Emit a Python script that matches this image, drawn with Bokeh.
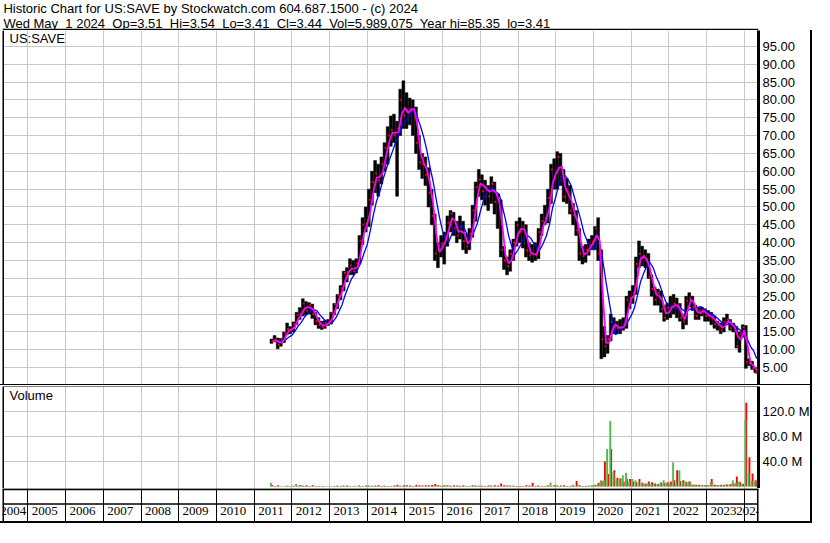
import pandas as pd
from bokeh.plotting import figure
from bokeh.layouts import column
from bokeh.models import (Range1d, FixedTicker, Grid, Span, Label, LabelSet, ColumnDataSource,
                          PrintfTickFormatter, CustomJSTickFormatter)
from bokeh.embed import file_html
from bokeh.resources import INLINE

# ---------------- texts ----------------
SP2 = " \u00a0"   # a double space that SVG text does not collapse
TITLE_1 = "Historic Chart for US:SAVE by Stockwatch.com 604.687.1500 - (c) 2024"
TITLE_2 = SP2.join(["Wed May", "1 2024", "Op=3.51", "Hi=3.54", "Lo=3.41", "Cl=3.44",
                    "Vol=5,989,075", "Year hi=85.35", "lo=3.41"])
SYMBOL = "US:SAVE"
VOLUME_TITLE = "Volume"

# ---------------- data (monthly, Jun 2011 .. May 1 2024) ----------------
FIRST_MONTH = "2011-06"
LAST_MONTH = "2024-05"
LAST_MONTH_DAYS = 1          # only May 1 2024 in the last bar

X_START, X_END = 2004.3255, 2024.378      # 20-year window (decimal years)
PRICE_TICKS = [5, 10, 15, 20, 25, 30, 35, 40, 45, 50, 55, 60, 65, 70, 75, 80, 85, 90, 95]
VOLUME_TICKS = [40, 80, 120]             # millions
YEAR_LINES = list(range(2005, 2025))
YEAR_LABELS = list(range(2004, 2025))

high = [
    13.0, 14.0, 13.3, 13.2, 15.0, 17.5, 16.5,
    17.8, 20.5, 21.8, 24.3, 23.5, 23.2, 22.8, 20.5, 19.0, 18.0, 18.2, 18.5,
    20.5, 23.0, 25.5, 28.0, 32.0, 33.0, 35.5, 35.0, 35.5, 42.0, 47.0, 50.0,
    55.0, 60.0, 63.0, 62.0, 64.0, 68.0, 72.5, 75.5, 76.0, 74.0, 83.0, 85.35,
    82.0, 80.5, 80.0, 78.0, 70.0, 65.0, 64.0, 61.0, 55.0, 48.0, 40.0, 42.0,
    43.0, 47.5, 49.0, 48.5, 46.0, 47.5, 46.0, 42.5, 44.0, 50.5, 57.0, 60.5,
    59.0, 57.5, 56.0, 58.5, 57.0, 53.5, 52.0, 39.0, 36.0, 38.0, 41.0, 46.0,
    47.0, 46.0, 45.0, 40.0, 39.5, 40.0, 44.0, 48.0, 50.5, 55.0, 62.0, 63.5,
    65.5, 65.0, 60.5, 58.0, 56.0, 51.0, 49.0, 44.0, 39.0, 39.5, 41.0, 42.0,
    44.5, 47.0, 38.0, 16.5, 14.0, 20.0, 19.0, 18.0, 18.5, 19.0, 25.0, 26.5,
    28.0, 36.0, 40.5, 39.0, 38.0, 37.0, 31.0, 27.5, 27.0, 26.5, 22.5, 23.0,
    25.0, 25.5, 24.5, 23.0, 20.0, 25.0, 26.0, 25.0, 22.5, 22.0, 22.0, 21.5,
    21.0, 20.5, 19.5, 18.0, 17.5, 19.0, 20.0, 18.5, 17.5, 16.5, 15.0, 17.0,
    16.8, 7.5, 6.8, 5.0, 3.54,
]
low = [
    11.8, 12.2, 10.3, 11.0, 12.0, 14.3, 14.5,
    15.0, 17.0, 18.5, 19.5, 19.8, 20.0, 18.8, 17.0, 16.0, 15.7, 16.0, 16.8,
    17.2, 19.8, 21.5, 24.0, 26.5, 29.0, 31.0, 31.0, 31.5, 34.0, 39.5, 43.0,
    44.5, 50.5, 54.0, 53.0, 56.5, 60.0, 62.0, 67.0, 68.0, 53.0, 70.0, 72.0,
    72.0, 73.0, 70.0, 65.0, 60.5, 58.0, 56.0, 50.0, 45.0, 35.0, 33.0, 36.0,
    34.0, 39.0, 43.0, 42.0, 40.0, 41.0, 38.0, 37.0, 38.0, 41.5, 46.0, 53.0,
    52.0, 50.5, 49.0, 51.0, 48.0, 44.0, 36.0, 32.5, 31.0, 32.0, 35.0, 39.0,
    40.0, 38.5, 36.0, 35.0, 34.5, 35.0, 35.5, 42.0, 45.0, 45.5, 51.0, 55.0,
    55.0, 56.0, 51.5, 51.0, 48.0, 45.0, 42.0, 35.0, 34.0, 34.5, 36.5, 38.0,
    38.0, 35.0, 7.5, 8.0, 9.0, 12.5, 14.5, 14.5, 14.5, 15.5, 16.0, 21.5,
    23.0, 25.5, 33.0, 33.5, 33.0, 30.0, 25.0, 22.5, 22.5, 20.5, 18.0, 18.5,
    19.0, 20.0, 19.0, 18.0, 15.8, 17.0, 22.0, 21.0, 18.5, 18.5, 19.5, 18.0,
    18.0, 17.0, 16.0, 15.5, 14.5, 15.0, 17.0, 15.5, 15.0, 10.5, 9.3, 13.5,
    4.8, 5.5, 4.5, 3.6, 3.41,
]
close = [
    12.4, 12.9, 11.4, 12.6, 14.8, 15.8, 15.6,
    17.2, 19.8, 20.0, 23.0, 21.0, 22.5, 20.0, 18.0, 17.0, 16.4, 17.5, 17.7,
    20.2, 22.8, 25.3, 27.2, 31.5, 31.8, 33.6, 32.0, 34.3, 40.6, 45.0, 45.4,
    52.0, 57.0, 59.4, 57.5, 62.0, 66.5, 70.0, 71.5, 70.0, 72.0, 80.0, 75.6,
    77.0, 77.5, 77.4, 68.0, 62.5, 62.0, 59.0, 54.0, 47.5, 37.0, 37.8, 39.8,
    41.5, 45.6, 48.2, 44.0, 42.0, 44.5, 40.5, 39.0, 42.5, 49.0, 55.5, 57.7,
    54.5, 55.5, 53.0, 56.5, 51.5, 51.7, 38.0, 35.0, 33.4, 36.8, 40.0, 44.9,
    43.0, 44.5, 37.8, 36.5, 37.0, 36.4, 43.0, 46.0, 47.0, 52.5, 60.5, 57.9,
    64.0, 58.5, 52.9, 54.5, 49.0, 47.7, 43.5, 37.0, 36.3, 38.0, 39.5, 40.3,
    44.0, 37.0, 12.9, 11.0, 13.0, 17.8, 16.5, 16.0, 16.3, 17.0, 24.0, 24.5,
    26.0, 34.0, 36.9, 35.7, 35.0, 30.5, 27.0, 24.0, 26.0, 21.5, 19.0, 21.8,
    22.0, 23.0, 21.9, 19.0, 18.0, 23.8, 24.4, 22.0, 19.5, 21.0, 21.0, 19.5,
    19.5, 18.8, 17.2, 17.0, 15.5, 17.8, 18.5, 16.0, 16.5, 11.0, 14.5, 16.4,
    6.5, 6.2, 4.8, 3.6, 3.44,
]
# peak daily volume of up days / down days in each month (millions)
vol_up = [
    6, 1, 1, 0.5, 1, 1.5, 1,
    1.5, 4, 1.5, 2, 1, 1, 1, 0.5, 1, 0.5, 1, 0.5,
    1, 1, 1.5, 1, 2, 1, 1, 0.5, 1, 2, 1, 1,
    2, 1.5, 1, 1, 1, 1.5, 1, 1, 1, 2, 1.5, 1,
    1.5, 1, 1, 1, 1, 1, 1, 1.5, 1, 2, 2, 1.5,
    2, 2, 1.5, 1, 1, 1.5, 1, 1, 1, 2, 2, 1.5,
    1.5, 1, 1, 2, 1, 1, 1, 1.5, 1, 2, 1.5, 1,
    1, 1, 1, 1, 1, 1, 2, 1, 1, 2, 6.5, 2,
    2, 1, 1, 1, 1, 3, 1, 2, 1, 1, 1.5, 2,
    3, 4, 10, 10, 60, 105, 23, 10, 13, 18, 22, 8,
    12, 10, 6, 5, 4, 5, 4, 5, 4, 7, 10, 6,
    5, 39, 6, 26, 8, 8, 8, 3, 3, 2.5, 2, 2,
    2, 7, 2, 2.5, 2, 3, 4, 3, 10, 6, 8, 5,
    107, 21, 9, 8, 0,
]
vol_dn = [
    2.5, 1, 2, 0.5, 0.5, 1, 0.5,
    1, 1, 2, 1, 2, 1, 2, 1, 1, 1, 0.5, 0.5,
    0.5, 1, 1, 1, 1, 1.5, 1, 1, 0.5, 1, 1, 1.5,
    1, 1, 1.5, 2, 1, 1, 1, 1, 1.5, 3, 1, 2,
    2, 1.5, 1, 3, 2, 1.5, 2, 2, 2.5, 4, 2, 1,
    2, 1.5, 1, 2, 1.5, 1, 2, 1, 1, 1.5, 1, 1,
    1, 1, 1.5, 1, 2, 1.5, 5, 2, 1.5, 1, 1, 1,
    1, 1, 2, 1.5, 6, 1, 1, 1, 1, 1.5, 1, 2,
    1, 1.5, 2, 1, 1, 1.5, 9, 2, 1, 1, 1, 1.5,
    2.5, 6, 9, 40, 20, 60, 26, 14, 13, 8, 12, 12,
    8, 7, 12, 6, 5, 8, 7, 5, 4, 6, 6, 7,
    8, 10, 26, 9, 10, 7, 8, 3, 3, 3, 2, 2.5,
    2, 12, 3, 2, 3, 2.5, 3, 4, 5, 16, 7, 4,
    134, 47, 21, 10, 6,
]

# ---------------- styling ----------------
FONT = "Liberation Sans"
FS = "13px"
FS_HDR = "13px"
GRAY = "#c8c8c8"
GREEN = "#4cbb4c"
RED = "#ff0000"
W = 812
LB = 2
RB = 54
H_HDR, H_PRICE, H_VOL, H_YEARS = 30, 355, 103, 35

# ---------------- derived positions ----------------
months = pd.period_range(FIRST_MONTH, LAST_MONTH, freq="M")
t0 = [m.year + (m.month - 1) / 12.0 for m in months]
spans = [1 / 12.0] * len(months)
spans[-1] = LAST_MONTH_DAYS / 31.0 / 12.0
xc = [a + s / 2 for a, s in zip(t0, spans)]
xe = [a + s for a, s in zip(t0, spans)]
bw = [max(s * 0.9, 0.03) for s in spans]

src = ColumnDataSource(dict(
    x=xc, w=bw, hi=high, lo=low, cl=close,
    xt=[x + 0.045 for x in xc],
    xu=[x - 0.012 for x in xc], xd=[x + 0.012 for x in xc],
    up=vol_up, dn=vol_dn,
))
full = pd.Series(close[:-1])
ma_src = ColumnDataSource(dict(
    x=xe[:-1],
    fast=full.rolling(2, min_periods=1).mean().tolist(),
    slow=full.rolling(5, min_periods=1).mean().tolist(),
))

x_range = Range1d(X_START, X_END)
common = dict(toolbar_location=None, output_backend="svg",
              background_fill_color="white", border_fill_color="white",
              outline_line_color=None)


def style_axis(fig):
    for ax in fig.yaxis:
        ax.axis_line_width = 3
        ax.axis_line_color = "black"
        ax.major_tick_line_color = None
        ax.minor_tick_line_color = None
        ax.major_tick_out = 0
        ax.major_tick_in = 0
        ax.major_label_standoff = 4
        ax.major_label_text_font = FONT
        ax.major_label_text_font_size = FS
        ax.major_label_text_color = "black"


# ---------------- header ----------------
hdr = figure(width=W, height=H_HDR, x_range=Range1d(0, W), y_range=Range1d(0, H_HDR),
             x_axis_type=None, y_axis_type=None, min_border=0, **common)
hdr.add_layout(Label(x=1, y=H_HDR - 8, text=TITLE_1, text_font=FONT, text_font_size=FS_HDR,
                     text_color="black", text_baseline="alphabetic"))
hdr.add_layout(Label(x=1, y=H_HDR - 22.5, text=TITLE_2, text_font=FONT, text_font_size=FS_HDR,
                     text_color="black", text_baseline="alphabetic"))
hdr.add_layout(Span(location=0.8, dimension="width", line_color="black", line_width=2))

# ---------------- price panel ----------------
pp = figure(width=W, height=H_PRICE, x_range=x_range, y_range=Range1d(0, 99.43),
            x_axis_type=None, y_axis_location="right",
            min_border_left=LB, min_border_right=RB, min_border_top=0, min_border_bottom=0,
            styles={"border-right": "2px solid black", "border-bottom": "1px solid black"},
            **common)
pp.add_layout(Grid(dimension=0, ticker=FixedTicker(ticks=YEAR_LINES), grid_line_color=GRAY))
pp.yaxis.ticker = FixedTicker(ticks=PRICE_TICKS)
pp.yaxis.formatter = PrintfTickFormatter(format="%.2f")
pp.ygrid.grid_line_color = GRAY
style_axis(pp)

pp.vbar(x="x", width="w", top="hi", bottom="lo", source=src,
        fill_color="black", line_color="black", line_width=0.5)
pp.segment(x0="x", x1="xt", y0="cl", y1="cl", source=src, line_color=RED, line_width=2)
pp.line(x="x", y="slow", source=ma_src, line_color="#0000ff", line_width=1.3)
pp.line(x="x", y="fast", source=ma_src, line_color="#ff00ff", line_width=1.8)
pp.add_layout(Span(location=X_START, dimension="height", line_color="black", line_width=3))
pp.add_layout(Label(x=X_START, y=99.43, x_offset=7, y_offset=0, text=SYMBOL,
                    text_font=FONT, text_font_size=FS, text_color="black",
                    text_baseline="top"))

# ---------------- volume panel ----------------
vp = figure(width=W, height=H_VOL, x_range=x_range, y_range=Range1d(-3.2, 160.2),
            x_axis_type=None, y_axis_location="right",
            min_border_left=LB, min_border_right=RB, min_border_top=1, min_border_bottom=0,
            styles={"border-right": "2px solid black"}, **common)
vp.add_layout(Grid(dimension=0, ticker=FixedTicker(ticks=YEAR_LINES), grid_line_color=GRAY))
vp.yaxis.ticker = FixedTicker(ticks=VOLUME_TICKS)
vp.yaxis.formatter = CustomJSTickFormatter(code="return tick.toFixed(1) + ' M';")
vp.ygrid.grid_line_color = GRAY
style_axis(vp)
vp.vbar(x="xd", width=0.05, top="dn", bottom=0, source=src, fill_color=RED, line_color=None)
vp.vbar(x="xu", width=0.05, top="up", bottom=0, source=src, fill_color=GREEN, line_color=None)
vp.add_layout(Span(location=X_START, dimension="height", line_color="black", line_width=3))
vp.add_layout(Span(location=160.2, dimension="width", line_color="black", line_width=1))
vp.add_layout(Label(x=X_START, y=160.2, x_offset=7, y_offset=-1, text=VOLUME_TITLE,
                    text_font=FONT, text_font_size=FS, text_color="black",
                    text_baseline="top"))

# ---------------- year strip ----------------
yp = figure(width=W, height=H_YEARS, x_range=x_range, y_range=Range1d(0, H_YEARS),
            x_axis_type=None, y_axis_type=None,
            min_border_left=LB, min_border_right=RB, min_border_top=0, min_border_bottom=0,
            styles={"border-right": "2px solid black", "border-bottom": "2px solid black"},
            **common)
yp.add_layout(Grid(dimension=0, ticker=FixedTicker(ticks=YEAR_LINES), grid_line_color="black"))
yp.add_layout(Span(location=H_YEARS - 0.8, dimension="width", line_color="black", line_width=2))
yp.add_layout(Span(location=H_YEARS - 15.5, dimension="width", line_color="black", line_width=1.5))
yp.add_layout(Span(location=X_START, dimension="height", line_color="black", line_width=3))
yp.add_layout(Span(location=X_END, dimension="height", line_color="black", line_width=3))
lab_x = [(max(y, X_START) + min(y + 1, X_END)) / 2 for y in YEAR_LABELS]
ysrc = ColumnDataSource(dict(x=lab_x, y=[9.0] * len(YEAR_LABELS), t=[str(y) for y in YEAR_LABELS]))
yp.add_layout(LabelSet(x="x", y="y", text="t", source=ysrc, x_offset=-2, text_align="center",
                       text_baseline="alphabetic", text_font=FONT, text_font_size=FS,
                       text_color="black"))

layout = column(hdr, pp, vp, yp, spacing=0)
open("out.html", "w").write(file_html(layout, INLINE, title="US:SAVE historic chart"))
